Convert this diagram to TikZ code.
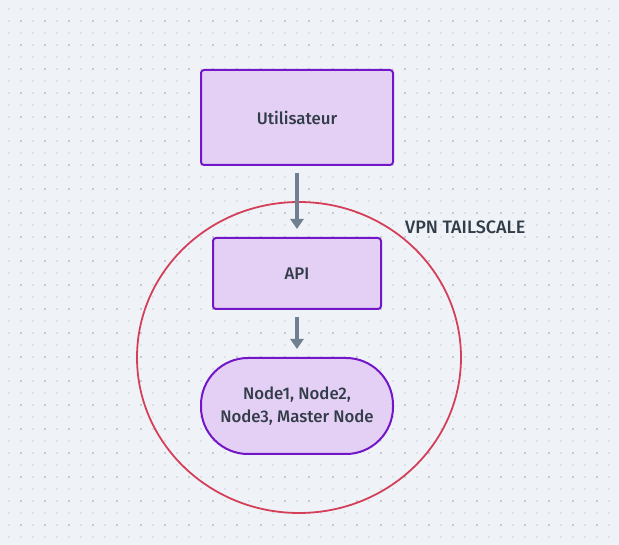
\documentclass[tikz,border=0pt]{standalone}
\usepackage{fontspec}
\setmainfont{Fira Sans Medium}
\usetikzlibrary{arrows.meta}
\definecolor{bgc}{HTML}{EFF3F7}
\definecolor{dotl}{HTML}{DCE1E7}
\definecolor{dotd}{HTML}{C4CBD3}
\definecolor{boxfill}{HTML}{E4D0F4}
\definecolor{boxline}{HTML}{7216C8}
\definecolor{arrc}{HTML}{708090}
\definecolor{vpnc}{HTML}{D4405A}
\definecolor{txt}{HTML}{333D4A}
\begin{document}
\begin{tikzpicture}[x=1pt,y=-1pt,
  box/.style={draw=boxline,fill=boxfill,line width=2pt,rounded corners=3pt,inner sep=0pt,text=txt,font=\fontsize{16.8}{22.5}\selectfont},
  conn/.style={draw=arrc,line width=4pt,-{Triangle[length=10pt,width=13pt]}},
  lbl/.style={text=txt,font=\fontsize{18}{22}\selectfont,inner sep=0pt}]
\fill[bgc] (0,0) rectangle (619,545);
\useasboundingbox (0,0) rectangle (619,545);
\foreach \i in {0,...,51}{
  \foreach \j in {0,...,45}{
    \pgfmathsetmacro{\px}{9+12*\i}
    \pgfmathsetmacro{\py}{9+12*\j}
    \pgfmathtruncatemacro{\dk}{(mod(\i,2)==1 && mod(\j,2)==1) ? 1 : 0}
    \ifnum\dk=1
      \fill[dotd] (\px-1,\py-1) rectangle (\px+1,\py+1);
    \else
      \fill[dotl] (\px-1,\py-1) rectangle (\px+1,\py+1);
    \fi
  }
}
\draw[vpnc,line width=1.8pt] (299,357.5) ellipse [x radius=162,y radius=155.5];
\node[lbl,anchor=west] (vpn) at (405,227) {VPN TAILSCALE};
\node[box,minimum width=192pt,minimum height=95pt] (user) at (297,117.5) {Utilisateur};
\node[box,minimum width=168pt,minimum height=71pt] (api) at (297,273.5) {API};
\node[box,rounded corners=47pt,minimum width=192pt,minimum height=96pt,align=center] (nodes) at (297,406) {Node1, Node2,\\Node3, Master Node};
\draw[conn] ([yshift=-7pt]user.south) -- ([yshift=8pt]api.north);
\draw[conn] ([yshift=-7pt]api.south) -- ([yshift=8pt]nodes.north);
\end{tikzpicture}
\end{document}
